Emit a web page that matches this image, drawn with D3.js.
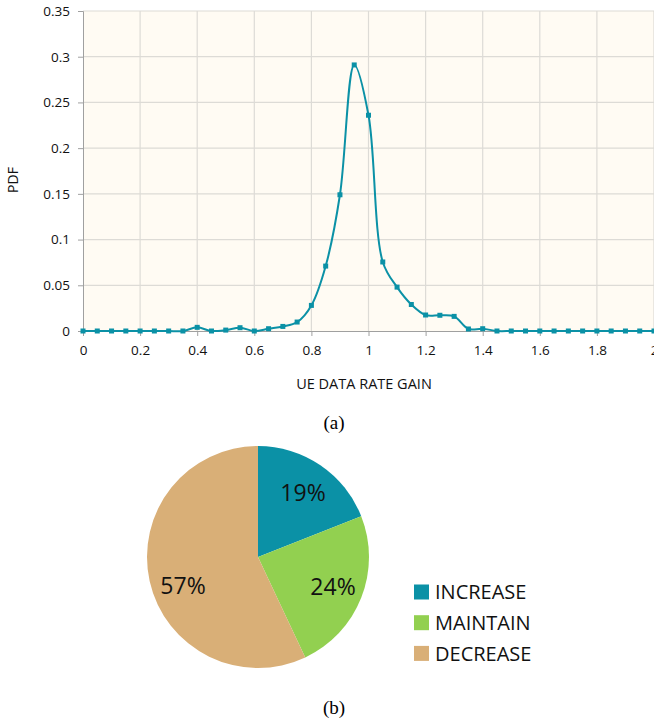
<!DOCTYPE html>
<html><head><meta charset="utf-8">
<script src="https://cdn.jsdelivr.net/npm/d3@7"></script>
<style>body{margin:0;background:#fff}svg{display:block}</style>
</head><body>
<svg id="c" width="654" height="724"></svg>
<script>
// ---- data ----
const gainX = [0,0.05,0.1,0.15,0.2,0.25,0.3,0.35,0.4,0.45,0.5,0.55,0.6,0.65,0.7,0.75,0.8,0.85,0.9,0.95,1.0,1.05,1.1,1.15,1.2,1.25,1.3,1.35,1.4,1.45,1.5,1.55,1.6,1.65,1.7,1.75,1.8,1.85,1.9,1.95,2.0];
const pdfY  = [0,0,0,0,0,0,0,0,0.004,0,0.001,0.0036,0,0.0025,0.005,0.0098,0.028,0.071,0.149,0.291,0.236,0.0755,0.048,0.029,0.0175,0.0172,0.016,0.0022,0.0025,0,0,0,0,0,0,0,0,0,0,0,0];
const xTicks = [0,0.2,0.4,0.6,0.8,1,1.2,1.4,1.6,1.8,2];
const yTicks = [0,0.05,0.1,0.15,0.2,0.25,0.3,0.35];
const pieLabels = ["INCREASE","MAINTAIN","DECREASE"];
const pieValues = [19,24,57];
const pieColors = ["#0B91A6","#92D050","#D9AF77"];

const svg = d3.select("#c");
const font = "'Open Sans', sans-serif";
const L=83, R=654, T=11, B=331;
const x = d3.scaleLinear().domain([0,2]).range([L,R]);
const y = d3.scaleLinear().domain([0,0.35]).range([B,T]);

svg.append("rect").attr("x",L).attr("y",T).attr("width",R-L).attr("height",B-T).attr("fill","#FFFBF3");
// grid
svg.append("g").selectAll("line").data(yTicks.filter(d=>d>0)).join("line")
  .attr("x1",L).attr("x2",R).attr("y1",d=>y(d)).attr("y2",d=>y(d)).attr("stroke","#DDDBD6").attr("stroke-width",1.2);
svg.append("g").selectAll("line").data(xTicks.filter(d=>d>0)).join("line")
  .attr("y1",T).attr("y2",B).attr("x1",d=>x(d)).attr("x2",d=>x(d)).attr("stroke","#DDDBD6").attr("stroke-width",1.2);

const yAxis = svg.append("g").attr("transform",`translate(${L},0)`)
  .call(d3.axisLeft(y).tickValues(yTicks).tickFormat(d=>String(+d.toFixed(2))).tickSize(5).tickPadding(8));
const xAxis = svg.append("g").attr("transform",`translate(0,${B})`)
  .call(d3.axisBottom(x).tickValues(xTicks).tickFormat(d=>String(d)).tickSize(5).tickPadding(9));
[yAxis,xAxis].forEach(g=>{
  g.selectAll("path").attr("stroke","#A0A0A0");
  g.selectAll("line").attr("stroke","#A0A0A0");
  g.selectAll("text").attr("font-family",font).attr("font-size",13.5).attr("fill","#111");
});

svg.append("text").attr("transform","translate(18,180) rotate(-90)").attr("text-anchor","middle")
  .attr("font-family",font).attr("font-size",14).attr("fill","#111").text("PDF");
svg.append("text").attr("x",364).attr("y",389).attr("text-anchor","middle")
  .attr("font-family",font).attr("font-size",14.5).attr("fill","#111").text("UE DATA RATE GAIN");

const pts = gainX.map((g,i)=>[g,pdfY[i]]);
const line = d3.line().x(d=>x(d[0])).y(d=>y(d[1])).curve(d3.curveCatmullRom.alpha(0.5));
svg.append("path").attr("d",line(pts)).attr("fill","none").attr("stroke","#0B91A6").attr("stroke-width",2);
svg.append("g").selectAll("rect").data(pts).join("rect")
  .attr("x",d=>x(d[0])-2.5).attr("y",d=>y(d[1])-2.5).attr("width",5).attr("height",5).attr("fill","#0B91A6");

svg.append("text").attr("x",334).attr("y",429).attr("text-anchor","middle")
  .attr("font-family","'Liberation Serif', serif").attr("font-size",19).text("(a)");

// pie
const cx=258, cy=557, r=111;
const pie = d3.pie().sort(null).value(d=>d)(pieValues);
const arc = d3.arc().innerRadius(0).outerRadius(r);
const pg = svg.append("g").attr("transform",`translate(${cx},${cy})`);
pg.selectAll("path").data(pie).join("path").attr("d",arc).attr("fill",(d,i)=>pieColors[i]);
const labelPos = [[45,-64],[75,30],[-75,29]];
pg.selectAll("text").data(pie).join("text")
  .attr("x",(d,i)=>labelPos[i][0]).attr("y",(d,i)=>labelPos[i][1]).attr("dy","0.35em")
  .attr("text-anchor","middle").attr("font-family",font).attr("font-size",23).attr("fill","#111")
  .text(d=>d.data+"%");

const lg = svg.append("g");
pieLabels.forEach((lab,i)=>{
  const yy = 592 + i*30.7;
  lg.append("rect").attr("x",414).attr("y",yy-7.5).attr("width",15).attr("height",15).attr("fill",pieColors[i]);
  lg.append("text").attr("x",435).attr("y",yy).attr("dy","0.36em").attr("font-family",font)
    .attr("font-size",20).attr("fill","#111").text(lab);
});

svg.append("text").attr("x",334).attr("y",714).attr("text-anchor","middle")
  .attr("font-family","'Liberation Serif', serif").attr("font-size",19).text("(b)");
</script>
</body></html>
